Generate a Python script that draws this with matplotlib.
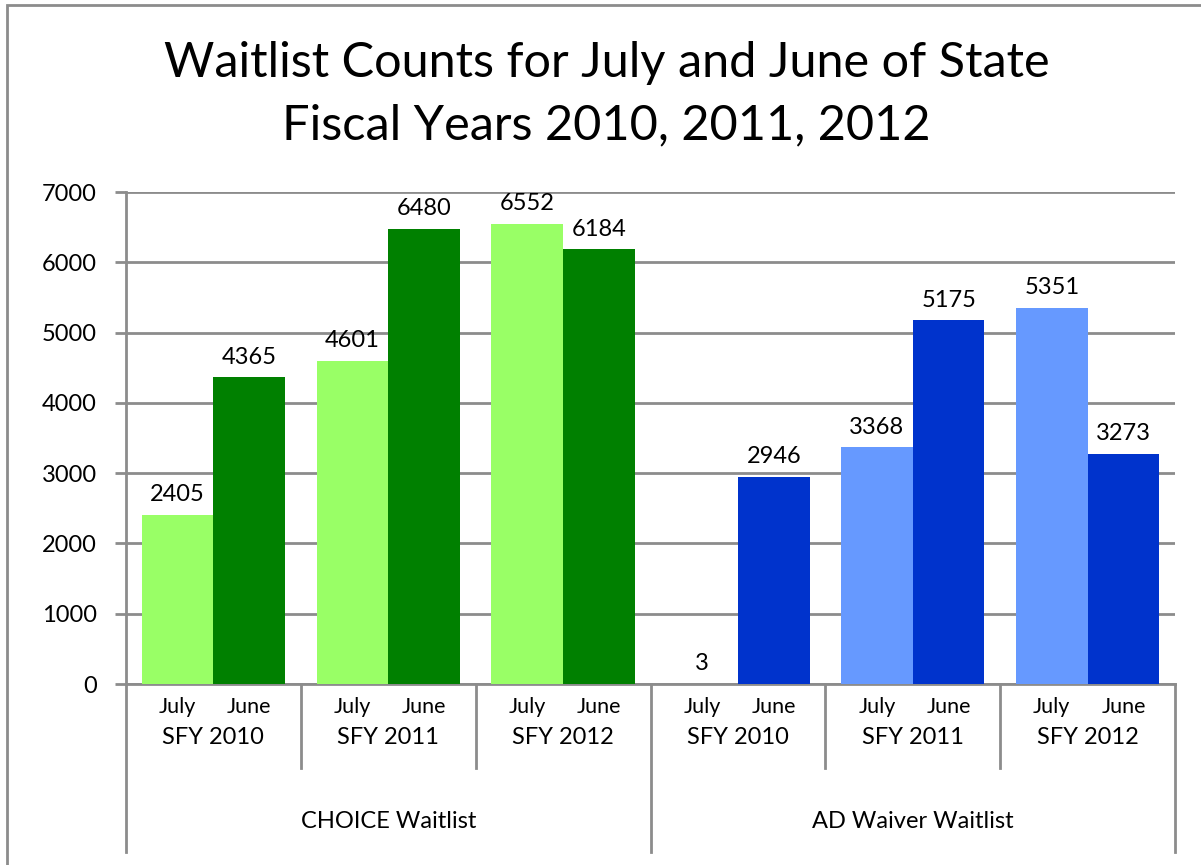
import matplotlib.pyplot as plt
from matplotlib.patches import Rectangle
from matplotlib.lines import Line2D
import matplotlib.transforms as mtransforms

plt.rcParams['font.family'] = ['Lato', 'DejaVu Sans']

groups = ["CHOICE Waitlist", "AD Waiver Waitlist"]
years = ["SFY 2010", "SFY 2011", "SFY 2012"]
months = ["July", "June"]
choice_july = [2405, 4601, 6552]
choice_june = [4365, 6480, 6184]
ad_july = [3, 3368, 5351]
ad_june = [2946, 5175, 3273]

july_colors = ["#99FF66", "#6699FF"]
june_colors = ["#008000", "#0033CC"]
grey = "#8c8c8c"

fig = plt.figure(figsize=(12.01, 8.65), dpi=100)
ax = fig.add_axes([0.1049, 0.2092, 0.8735, 0.5688])

# outer chart frame (runs off the right and bottom edge)
fig.patches.append(Rectangle((7 / 1201, -0.05), 1.1, 1 - 5 / 865 + 0.05,
                             transform=fig.transFigure, fill=False,
                             edgecolor=grey, linewidth=2))

bw = 0.41
series = [(choice_july, choice_june), (ad_july, ad_june)]
for g, (jul, jun) in enumerate(series):
    for i in range(len(years)):
        c = g * 3 + i + 0.5
        for off, val, col in ((-bw / 2, jul[i], july_colors[g]),
                              (bw / 2, jun[i], june_colors[g])):
            ax.bar(c + off, val, width=bw, color=col, zorder=3)
            ax.annotate(str(val), (c + off, val), xytext=(0, 7),
                        textcoords="offset points", ha="center", va="bottom",
                        fontsize=17, zorder=4)

ax.set_xlim(0, 6)
ax.set_ylim(0, 7000)
ax.set_yticks(range(0, 7001, 1000))
ax.tick_params(axis="y", labelsize=17, length=8, width=2, color=grey, pad=13)
ax.set_xticks([])
ax.grid(axis="y", color=grey, linewidth=2, zorder=0)
for s in ["top", "right"]:
    ax.spines[s].set_visible(False)
for s in ["left", "bottom"]:
    ax.spines[s].set_color(grey)
    ax.spines[s].set_linewidth(2)

# multi-level category axis
tr = mtransforms.blended_transform_factory(ax.transData, ax.transAxes)
for k in range(6):
    c = k + 0.5
    for off, m in ((-bw / 2, months[0]), (bw / 2, months[1])):
        ax.text(c + off, -0.047, m, transform=tr, ha="center", va="center",
                fontsize=15.5)
    ax.text(c, -0.108, years[k % 3], transform=tr, ha="center", va="center",
            fontsize=17)
for g, name in enumerate(groups):
    ax.text(g * 3 + 1.5, -0.28, name, transform=tr, ha="center", va="center",
            fontsize=17)
for x in range(7):
    bottom = -0.342 if x % 3 == 0 else -0.171
    ax.add_line(Line2D([x, x], [0, bottom], transform=tr, color=grey,
                       linewidth=2, clip_on=False))

fig.text(0.505, 0.891, "Waitlist Counts for July and June of State\nFiscal Years 2010, 2011, 2012",
         ha="center", va="center", fontsize=35, linespacing=1.5)

fig.savefig("out.png", dpi=100)
